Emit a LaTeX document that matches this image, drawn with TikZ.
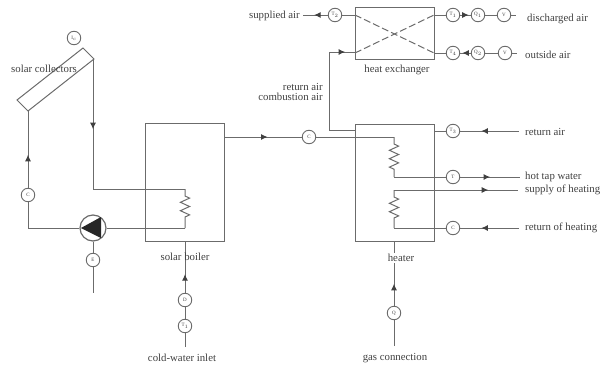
\documentclass[tikz,border=0pt]{standalone}
\usepackage{fontspec}
\setmainfont{Liberation Serif}
\usetikzlibrary{arrows.meta,decorations.markings,decorations.pathmorphing}
\definecolor{pipe}{gray}{0.42}
\definecolor{ink}{gray}{0.25}
\tikzset{
    pipeline/.style={draw=pipe,line width=1pt},
    flow/.style={postaction={decorate},decoration={markings,mark=at position #1 with {\arrow[ink]{Latex[length=6.5pt,width=6pt]}}}},
    coil/.style={decorate,decoration={zigzag,segment length=8.4pt,amplitude=4.6pt,pre length=7pt,post length=7pt}},
    sensor/.style={circle,draw=pipe,line width=0.9pt,fill=white,minimum size=13.5pt,inner sep=0pt,font=\fontsize{5}{5}\selectfont,text=ink},
    label/.style={font=\fontsize{10.8}{11}\selectfont,text=ink,inner sep=0pt},
}
\begin{document}
\begin{tikzpicture}[x=1pt,y=-1pt]
    \useasboundingbox(0,0)rectangle(600,367);

    \coordinate(boilerNW)at(145,123);
    \coordinate(boilerSE)at(224,241);
    \coordinate(heaterNW)at(355,124);
    \coordinate(heaterSE)at(434,241);
    \coordinate(exchNW)at(355,7);
    \coordinate(exchSE)at(434,59);
    \draw[pipeline](boilerNW)rectangle(boilerSE);
    \draw[pipeline](heaterNW)rectangle(heaterSE);
    \draw[pipeline](exchNW)rectangle(exchSE);
    \draw[pipeline](83,48)--(94,59)--(28,111)--(17,100)--cycle;

    \coordinate(collIn)at(28,111);
    \coordinate(collOut)at(93,59);
    \coordinate(solarA)at(93,189);
    \coordinate(solarB)at(185,189);
    \coordinate(solarC)at(185,228);
    \coordinate(solarD)at(28,228);
    \node[sensor](Ic)at(74,38){I$_c$};
    \node[sensor](Cs)at(28,195){C};
    \node[circle,draw=pipe,line width=1.2pt,fill=white,minimum size=26pt,inner sep=0pt](pump)at(93,228){};
    \node[sensor](Ep)at(93,260){E};
    \coordinate(pumpEnd)at(93,293);
    \fill[black!85](81,228)--(101,217)--(101,238)--cycle;

    \draw[pipeline,flow=0.54](collOut)--(solarA);
    \draw[pipeline](solarA)--(solarB);
    \draw[pipeline,coil](solarB)--(solarC);
    \draw[pipeline](solarC)--(pump);
    \draw[pipeline](pump)--(solarD)--(Cs);
    \draw[pipeline,flow=0.43](Cs)--(collIn);
    \draw[pipeline](pump)--(Ep);
    \draw[pipeline](Ep)--(pumpEnd);

    \coordinate(coldEnd)at(185,347);
    \coordinate(coldTop)at(185,241);
    \node[sensor](Dw)at(185,300){D};
    \node[sensor](Tw)at(185,326){T$_1$};
    \draw[pipeline](coldEnd)--(Tw);
    \draw[pipeline](Tw)--(Dw);
    \draw[pipeline,flow=0.36](Dw)--(coldTop);

    \coordinate(boilerOut)at(224,137);
    \coordinate(coilA)at(394,137);
    \coordinate(coilB)at(394,177);
    \coordinate(coilC)at(394,190);
    \coordinate(coilD)at(394,228);
    \node[sensor](Cb)at(309,137){C};
    \draw[pipeline,flow=0.56](boilerOut)--(Cb);
    \draw[pipeline](Cb)--(coilA);
    \draw[pipeline,coil](coilA)--(coilB);
    \draw[pipeline,coil](coilC)--(coilD);

    \coordinate(returnEnd)at(519,131);
    \coordinate(hotEnd)at(520,177);
    \coordinate(supplyEnd)at(518,190);
    \coordinate(heatEnd)at(519,228);
    \node[sensor](Tr)at(453,131){T$_3$};
    \node[sensor](Th)at(453,177){T};
    \node[sensor](Cr)at(453,228){C};
    \draw[pipeline](434,131)--(Tr);
    \draw[pipeline,flow=0.64](returnEnd)--(Tr);
    \draw[pipeline](coilB)--(Th);
    \draw[pipeline,flow=0.5](Th)--(hotEnd);
    \draw[pipeline,flow=0.76](coilC)--(supplyEnd);
    \draw[pipeline,flow=0.64](heatEnd)--(Cr);
    \draw[pipeline](Cr)--(coilD);

    \coordinate(gasEnd)at(394,346);
    \coordinate(gasTop)at(394,241);
    \node[sensor](Qg)at(394,313){Q};
    \draw[pipeline](gasEnd)--(Qg);
    \draw[pipeline,flow=0.34](Qg)--(gasTop);

    \coordinate(airA)at(355,130);
    \coordinate(airB)at(329,130);
    \coordinate(airC)at(329,52);
    \coordinate(airD)at(355,52);
    \draw[pipeline](airA)--(airB)--(airC);
    \draw[pipeline,flow=0.62](airC)--(airD);

    \coordinate(exchA)at(355,15);
    \coordinate(exchB)at(434,15);
    \coordinate(exchC)at(434,53);
    \coordinate(exchD)at(355,53);
    \draw[pipeline,dash pattern=on 7pt off 3pt](exchA)--(exchC);
    \draw[pipeline,dash pattern=on 7pt off 3pt](exchD)--(exchB);

    \coordinate(suppliedEnd)at(303,15);
    \coordinate(dischargedEnd)at(516,15);
    \coordinate(outsideEnd)at(517,53);
    \node[sensor](Ts)at(335,15){T$_2$};
    \node[sensor](Td)at(453,15){T$_1$};
    \node[sensor](Qd)at(478,15){Q$_1$};
    \node[sensor](Vd)at(504,15){V};
    \node[sensor](To)at(453,53){T$_4$};
    \node[sensor](Qo)at(478,53){Q$_2$};
    \node[sensor](Vo)at(505,53){V};
    \draw[pipeline](exchA)--(Ts);
    \draw[pipeline,flow=0.55](Ts)--(suppliedEnd);
    \draw[pipeline](exchB)--(Td);
    \draw[pipeline,flow=0.8](Td)--(Qd);
    \draw[pipeline](Qd)--(Vd);
    \draw[pipeline](Vd)--(dischargedEnd);
    \draw[pipeline](exchC)--(To);
    \draw[pipeline,flow=0.8](Qo)--(To);
    \draw[pipeline](Qo)--(Vo);
    \draw[pipeline](Vo)--(outsideEnd);

    \node[label](lCollectors)at(44,69){solar collectors};
    \node[label](lBoiler)at(185,257){solar boiler};
    \node[label](lCold)at(182,358){cold-water inlet};
    \node[label](lGas)at(395,358){gas connection};
    \node[label,fill=white,inner ysep=1pt](lHeater)at(401,258){heater};
    \node[label](lExch)at(397,70){heat exchanger};
    \node[label,anchor=east](lSupplied)at(300,16){supplied air};
    \node[label,anchor=east](lReturnA)at(323,87){return air};
    \node[label,anchor=east](lCombustion)at(323,97){combustion air};
    \node[label,anchor=west](lDischarged)at(527,19){discharged air};
    \node[label,anchor=west](lOutside)at(525,55){outside air};
    \node[label,anchor=west](lReturnB)at(525,132){return air};
    \node[label,anchor=west](lHot)at(525,177){hot tap water};
    \node[label,anchor=west](lSupply)at(525,190){supply of heating};
    \node[label,anchor=west](lHeating)at(525,228){return of heating};
\end{tikzpicture}
\end{document}
